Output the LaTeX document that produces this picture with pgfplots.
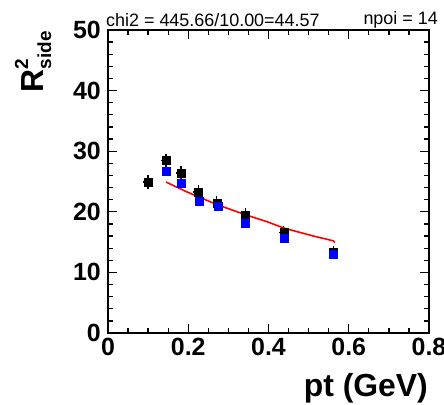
\documentclass[border=0pt]{standalone}
\usepackage{fontspec}
\setmainfont{Liberation Sans}
\usepackage{pgfplots}
\pgfplotsset{compat=1.18}
\begin{document}
\begin{tikzpicture}
\path[use as bounding box] (0,0) rectangle (444bp,405bp);
\begin{axis}[
  scale only axis, width=321bp, height=303bp,
  at={(108bp,72bp)}, anchor=south west,
  xmin=0, xmax=0.8, ymin=0, ymax=50,
  xtick={0,0.2,0.4,0.6,0.8}, xticklabels={0,0.2,0.4,0.6,0.8},
  ytick={0,10,20,30,40,50}, yticklabels={0,10,20,30,40,50},
  minor x tick num=3, minor y tick num=4,
  tick align=inside,
  major tick length=9bp, minor tick length=5bp,
  axis line style={line width=1.3bp},
  every tick/.style={black, line width=1.3bp},
  xticklabel style={font=\fontsize{25}{25}\selectfont\bfseries, anchor=north, inner sep=0pt, yshift=-5bp},
  yticklabel style={font=\fontsize{25}{25}\selectfont\bfseries, anchor=east, inner sep=0pt, xshift=-7bp},
  clip=false,
]
% black points
\addplot[only marks, mark=square*, mark size=4bp, black,
  error bars/.cd, x dir=both, x explicit, y dir=both, y explicit,
  error bar style={line width=1.5bp}, error mark=none]
  coordinates {
  (0.100,24.9) +- (0.012,1.1)
  (0.145,28.5) +- (0.012,1.1)
  (0.182,26.4) +- (0.012,1.1)
  (0.225,23.3) +- (0.012,1.1)
  (0.271,21.5) +- (0.012,1.1)
  (0.343,19.5) +- (0.012,1.1)
  (0.438,16.6) +- (0.012,1.1)
  (0.562,13.3) +- (0.012,1.1)
  };
% blue points
\addplot[only marks, mark=square*, mark size=4bp, blue,
  error bars/.cd, x dir=both, x explicit, y dir=both, y explicit,
  error bar style={line width=1.5bp}, error mark=none]
  coordinates {
  (0.145,26.7) +- (0.010,0.8)
  (0.182,24.7) +- (0.010,0.8)
  (0.227,21.7) +- (0.010,0.8)
  (0.274,21.0) +- (0.010,0.8)
  (0.343,18.1) +- (0.010,0.8)
  (0.438,15.7) +- (0.010,0.8)
  (0.562,13.0) +- (0.010,0.8)
  };
% red fit
\addplot[red, line width=1.6bp, mark=none] coordinates {
  (0.145,24.9) (0.196,23.3) (0.271,21.2) (0.343,19.5) (0.395,18.4)
  (0.439,17.3) (0.512,16.0) (0.562,15.2) (0.565,14.9)
};
\end{axis}
\node[anchor=base west, inner sep=0pt, font=\fontsize{18}{18}\selectfont] at (106bp,378bp) {chi2 = 445.66/10.00=44.57};
\node[anchor=base east, inner sep=0pt, font=\fontsize{18}{18}\selectfont] at (438bp,380bp) {npoi = 14};
\node[anchor=base east, inner sep=0pt, font=\fontsize{32}{32}\selectfont\bfseries] at (428bp,9bp) {pt (GeV)};
\node[anchor=base east, inner sep=0pt, rotate=90, font=\fontsize{32}{32}\selectfont\bfseries] at (43bp,374bp)
  {R\rlap{\raisebox{15bp}{\fontsize{19}{19}\selectfont 2}}\raisebox{-8bp}{\fontsize{19}{19}\selectfont side}};
\end{tikzpicture}
\end{document}
